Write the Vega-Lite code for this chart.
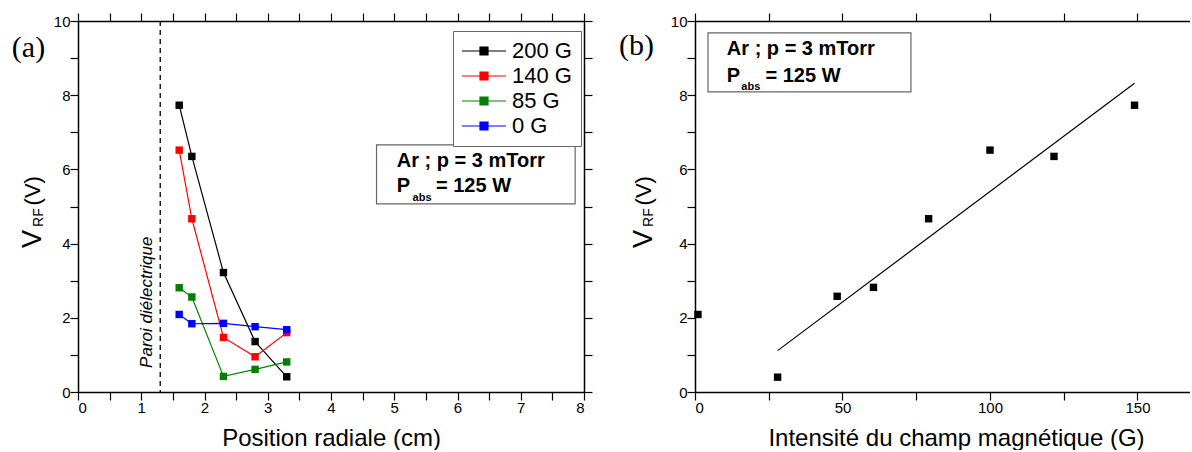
{
  "$schema": "https://vega.github.io/schema/vega-lite/v6.json",
  "padding": {"left": 11, "top": 12, "right": 0, "bottom": 0},
  "spacing": 111,
  "bounds": "flush",
  "resolve": {"scale": {"color": "independent"}},
  "datasets": {
    "radial": [
      {"s": "200 G", "pos": 1.6, "vrf": 7.73}, {"s": "200 G", "pos": 1.8, "vrf": 6.35}, {"s": "200 G", "pos": 2.3, "vrf": 3.22}, {"s": "200 G", "pos": 2.8, "vrf": 1.36}, {"s": "200 G", "pos": 3.3, "vrf": 0.41},
      {"s": "140 G", "pos": 1.6, "vrf": 6.52}, {"s": "140 G", "pos": 1.8, "vrf": 4.67}, {"s": "140 G", "pos": 2.3, "vrf": 1.47}, {"s": "140 G", "pos": 2.8, "vrf": 0.95}, {"s": "140 G", "pos": 3.3, "vrf": 1.6},
      {"s": "85 G", "pos": 1.6, "vrf": 2.81}, {"s": "85 G", "pos": 1.8, "vrf": 2.56}, {"s": "85 G", "pos": 2.3, "vrf": 0.42}, {"s": "85 G", "pos": 2.8, "vrf": 0.61}, {"s": "85 G", "pos": 3.3, "vrf": 0.81},
      {"s": "0 G", "pos": 1.6, "vrf": 2.09}, {"s": "0 G", "pos": 1.8, "vrf": 1.84}, {"s": "0 G", "pos": 2.3, "vrf": 1.85}, {"s": "0 G", "pos": 2.8, "vrf": 1.76}, {"s": "0 G", "pos": 3.3, "vrf": 1.68}
    ],
    "champ": [
      {"B": 1, "vrf": 2.09}, {"B": 28, "vrf": 0.4}, {"B": 48.2, "vrf": 2.58}, {"B": 60.5, "vrf": 2.82},
      {"B": 79.2, "vrf": 4.67}, {"B": 100, "vrf": 6.52}, {"B": 121.7, "vrf": 6.35}, {"B": 149, "vrf": 7.73}
    ],
    "one": [{}]
  },
  "config": {
    "view": {"stroke": null},
    "font": "Liberation Sans",
    "axis": {
      "labelColor": "black", "titleColor": "black", "domainColor": "black", "domainWidth": 1.5,
      "tickColor": "black", "tickWidth": 1.2, "grid": false, "labelFontSize": 15,
      "labelFont": "Liberation Sans", "titleFont": "Liberation Sans", "titleFontSize": 24,
      "titleFontWeight": "normal", "labelOverlap": false, "tickSize": 8, "labelPadding": 0
    }
  },
  "hconcat": [
    {
      "name": "pa",
      "width": 506,
      "height": 371,
      "resolve": {"axis": {"x": "independent", "y": "independent"}},
      "layer": [
        {
          "data": {"name": "radial"},
          "mark": {"type": "line", "strokeWidth": 1.2, "point": {"shape": "square", "size": 55, "filled": true, "opacity": 1}},
          "encoding": {
            "x": {"field": "pos", "type": "quantitative", "scale": {"domain": [0, 8], "nice": false},
              "axis": {"orient": "bottom", "values": [0, 0.5, 1, 1.5, 2, 2.5, 3, 3.5, 4, 4.5, 5, 5.5, 6, 6.5, 7, 7.5, 8], "format": ".0f",
                "labelExpr": "datum.value % 1 ? '' : datum.label", "title": "Position radiale (cm)", "titlePadding": 11,
                "encode": {"ticks": {"update": {"y2": {"signal": "datum.value % 1 ? -4 : -8"}}}}}},
            "y": {"field": "vrf", "type": "quantitative", "scale": {"domain": [0, 10], "nice": false},
              "axis": {"orient": "left", "values": [0, 1, 2, 3, 4, 5, 6, 7, 8, 9, 10],
                "labelExpr": "datum.value % 2 ? '' : datum.label", "title": null,
                "encode": {"ticks": {"update": {"x2": {"signal": "datum.value % 2 ? 4 : 8"}}}}}},
            "color": {"field": "s", "type": "nominal",
              "scale": {"domain": ["200 G", "140 G", "85 G", "0 G"], "range": ["#000000", "#ff0000", "#008000", "#0000ff"]},
              "legend": {"orient": "none", "legendX": 375, "legendY": 10, "title": null, "padding": 9,
                "strokeColor": "#666666", "fillColor": "white", "symbolType": "M-5.5,0H5.5M-1,-1H1V1H-1Z", "symbolSize": 64,
                "symbolOffset": 11, "labelOffset": 17, "labelFontSize": 22, "labelFont": "Liberation Sans", "labelColor": "black", "rowPadding": 3,
                "encode": {"symbols": {"update": {"fill": {"scale": "pa_color", "field": "value"}, "stroke": {"scale": "pa_color", "field": "value"}, "strokeWidth": {"value": 1.2}, "opacity": {"value": 1}}}}}},
            "order": {"field": "pos", "type": "quantitative"}
          }
        },
        {
          "data": {"name": "one"},
          "mark": {"type": "rule", "strokeDash": [5, 4], "strokeWidth": 1.3, "color": "black"},
          "encoding": {"x": {"datum": 1.3, "type": "quantitative", "scale": {"domain": [0, 8], "nice": false}, "axis": null}}
        },
        {
          "data": {"name": "one"},
          "mark": {"type": "text", "text": "Paroi diélectrique", "angle": 270, "align": "left", "baseline": "middle", "fontStyle": "italic", "fontSize": 17, "color": "black"},
          "encoding": {
            "x": {"datum": 1.09, "type": "quantitative", "scale": {"domain": [0, 8], "nice": false}, "axis": null},
            "y": {"datum": 0.65, "type": "quantitative", "scale": {"domain": [0, 10], "nice": false}, "axis": null}
          }
        },
        {
          "data": {"name": "one"},
          "mark": {"type": "rect", "fill": "white", "stroke": "#666666", "strokeWidth": 1.2},
          "encoding": {
            "x": {"datum": 4.72, "type": "quantitative", "scale": {"domain": [0, 8], "nice": false},
              "axis": {"orient": "top", "values": [0, 0.5, 1, 1.5, 2, 2.5, 3, 3.5, 4, 4.5, 5, 5.5, 6, 6.5, 7, 7.5, 8], "labels": false, "title": null,
                "encode": {"ticks": {"update": {"y2": {"signal": "datum.value % 1 ? 4 : 8"}}}}}},
            "x2": {"datum": 7.86},
            "y": {"datum": 5.07, "type": "quantitative", "scale": {"domain": [0, 10], "nice": false},
              "axis": {"orient": "right", "values": [0, 1, 2, 3, 4, 5, 6, 7, 8, 9, 10], "labels": false, "title": null,
                "encode": {"ticks": {"update": {"x2": {"signal": "datum.value % 2 ? -4 : -8"}}}}}},
            "y2": {"datum": 6.66}
          }
        },
        {
          "data": {"values": [{"t": "Ar ; p = 3 mTorr", "px": 5.04, "py": 6.23}, {"t": "P", "px": 5.04, "py": 5.55}, {"t": "= 125 W", "px": 5.66, "py": 5.55}]},
          "mark": {"type": "text", "align": "left", "baseline": "middle", "fontWeight": "bold", "fontSize": 20, "color": "black"},
          "encoding": {
            "x": {"field": "px", "type": "quantitative", "scale": {"domain": [0, 8], "nice": false}, "axis": null},
            "y": {"field": "py", "type": "quantitative", "scale": {"domain": [0, 10], "nice": false}, "axis": null},
            "text": {"field": "t"}
          }
        },
        {
          "data": {"name": "one"},
          "mark": {"type": "text", "text": "abs", "align": "left", "baseline": "middle", "fontWeight": "bold", "fontSize": 11, "color": "black"},
          "encoding": {
            "x": {"datum": 5.29, "type": "quantitative", "scale": {"domain": [0, 8], "nice": false}, "axis": null},
            "y": {"datum": 5.24, "type": "quantitative", "scale": {"domain": [0, 10], "nice": false}, "axis": null}
          }
        },
        {
          "data": {"name": "one"},
          "mark": {"type": "text", "text": "(a)", "align": "left", "baseline": "middle", "font": "Liberation Serif", "fontSize": 30, "color": "black"},
          "encoding": {
            "x": {"datum": -1.046, "type": "quantitative", "scale": {"domain": [0, 8], "nice": false}, "axis": null},
            "y": {"datum": 9.27, "type": "quantitative", "scale": {"domain": [0, 10], "nice": false}, "axis": null}
          }
        },
        {
          "data": {"name": "one"},
          "mark": {"type": "text", "text": "V", "angle": 270, "align": "left", "baseline": "middle", "fontSize": 27, "color": "black"},
          "encoding": {
            "x": {"datum": -0.705, "type": "quantitative", "scale": {"domain": [0, 8], "nice": false}, "axis": null},
            "y": {"datum": 3.88, "type": "quantitative", "scale": {"domain": [0, 10], "nice": false}, "axis": null}
          }
        },
        {
          "data": {"name": "one"},
          "mark": {"type": "text", "text": "RF", "angle": 270, "align": "left", "baseline": "middle", "fontSize": 14, "color": "black"},
          "encoding": {
            "x": {"datum": -0.62, "type": "quantitative", "scale": {"domain": [0, 8], "nice": false}, "axis": null},
            "y": {"datum": 4.45, "type": "quantitative", "scale": {"domain": [0, 10], "nice": false}, "axis": null}
          }
        },
        {
          "data": {"name": "one"},
          "mark": {"type": "text", "text": "(V)", "angle": 270, "align": "left", "baseline": "middle", "fontSize": 22, "color": "black"},
          "encoding": {
            "x": {"datum": -0.705, "type": "quantitative", "scale": {"domain": [0, 8], "nice": false}, "axis": null},
            "y": {"datum": 5.03, "type": "quantitative", "scale": {"domain": [0, 10], "nice": false}, "axis": null}
          }
        }
      ]
    },
    {
      "name": "pb",
      "width": 495,
      "height": 371,
      "resolve": {"axis": {"x": "independent", "y": "independent"}},
      "layer": [
        {
          "data": {"name": "champ"},
          "mark": {"type": "point", "shape": "square", "size": 55, "filled": true, "color": "black", "opacity": 1},
          "encoding": {
            "x": {"field": "B", "type": "quantitative", "scale": {"domain": [0, 167.8], "nice": false},
              "axis": {"orient": "bottom", "values": [0, 25, 50, 75, 100, 125, 150],
                "labelExpr": "datum.value % 50 ? '' : datum.label", "title": "Intensité du champ magnétique (G)", "titlePadding": 11, "titleX": 261,
                "encode": {"ticks": {"update": {"y2": {"signal": "datum.value % 50 ? -4 : -8"}}}}}},
            "y": {"field": "vrf", "type": "quantitative", "scale": {"domain": [0, 10], "nice": false},
              "axis": {"orient": "left", "values": [0, 1, 2, 3, 4, 5, 6, 7, 8, 9, 10],
                "labelExpr": "datum.value % 2 ? '' : datum.label", "title": null,
                "encode": {"ticks": {"update": {"x2": {"signal": "datum.value % 2 ? 4 : 8"}}}}}}
          }
        },
        {
          "data": {"name": "champ"},
          "transform": [{"filter": "datum.B > 10"}, {"regression": "vrf", "on": "B"}],
          "mark": {"type": "line", "color": "black", "strokeWidth": 1.2},
          "encoding": {
            "x": {"field": "B", "type": "quantitative", "scale": {"domain": [0, 167.8], "nice": false}, "axis": null},
            "y": {"field": "vrf", "type": "quantitative", "scale": {"domain": [0, 10], "nice": false}, "axis": null}
          }
        },
        {
          "data": {"name": "one"},
          "mark": {"type": "rect", "fill": "white", "stroke": "#666666", "strokeWidth": 1.2},
          "encoding": {
            "x": {"datum": 4.4, "type": "quantitative", "scale": {"domain": [0, 167.8], "nice": false},
              "axis": {"orient": "top", "values": [0, 25, 50, 75, 100, 125, 150], "labels": false, "title": null,
                "encode": {"ticks": {"update": {"y2": {"signal": "datum.value % 50 ? 4 : 8"}}}}}},
            "x2": {"datum": 73.2},
            "y": {"datum": 8.09, "type": "quantitative", "scale": {"domain": [0, 10], "nice": false}, "axis": null},
            "y2": {"datum": 9.68}
          }
        },
        {
          "data": {"values": [{"t": "Ar ; p = 3 mTorr", "px": 10.8, "py": 9.25}, {"t": "P", "px": 10.8, "py": 8.52}, {"t": "= 125 W", "px": 23.9, "py": 8.52}]},
          "mark": {"type": "text", "align": "left", "baseline": "middle", "fontWeight": "bold", "fontSize": 20, "color": "black"},
          "encoding": {
            "x": {"field": "px", "type": "quantitative", "scale": {"domain": [0, 167.8], "nice": false}, "axis": null},
            "y": {"field": "py", "type": "quantitative", "scale": {"domain": [0, 10], "nice": false}, "axis": null},
            "text": {"field": "t"}
          }
        },
        {
          "data": {"name": "one"},
          "mark": {"type": "text", "text": "abs", "align": "left", "baseline": "middle", "fontWeight": "bold", "fontSize": 11, "color": "black"},
          "encoding": {
            "x": {"datum": 15.7, "type": "quantitative", "scale": {"domain": [0, 167.8], "nice": false}, "axis": null},
            "y": {"datum": 8.21, "type": "quantitative", "scale": {"domain": [0, 10], "nice": false}, "axis": null}
          }
        },
        {
          "data": {"name": "one"},
          "mark": {"type": "text", "text": "(b)", "align": "left", "baseline": "middle", "font": "Liberation Serif", "fontSize": 30, "color": "black"},
          "encoding": {
            "x": {"datum": -25.8, "type": "quantitative", "scale": {"domain": [0, 167.8], "nice": false}, "axis": null},
            "y": {"datum": 9.33, "type": "quantitative", "scale": {"domain": [0, 10], "nice": false}, "axis": null}
          }
        },
        {
          "data": {"name": "one"},
          "mark": {"type": "text", "text": "V", "angle": 270, "align": "left", "baseline": "middle", "fontSize": 27, "color": "black"},
          "encoding": {
            "x": {"datum": -17.3, "type": "quantitative", "scale": {"domain": [0, 167.8], "nice": false}, "axis": null},
            "y": {"datum": 3.88, "type": "quantitative", "scale": {"domain": [0, 10], "nice": false}, "axis": null}
          }
        },
        {
          "data": {"name": "one"},
          "mark": {"type": "text", "text": "RF", "angle": 270, "align": "left", "baseline": "middle", "fontSize": 14, "color": "black"},
          "encoding": {
            "x": {"datum": -15.6, "type": "quantitative", "scale": {"domain": [0, 167.8], "nice": false}, "axis": null},
            "y": {"datum": 4.45, "type": "quantitative", "scale": {"domain": [0, 10], "nice": false}, "axis": null}
          }
        },
        {
          "data": {"name": "one"},
          "mark": {"type": "text", "text": "(V)", "angle": 270, "align": "left", "baseline": "middle", "fontSize": 22, "color": "black"},
          "encoding": {
            "x": {"datum": -17.3, "type": "quantitative", "scale": {"domain": [0, 167.8], "nice": false}, "axis": null},
            "y": {"datum": 5.03, "type": "quantitative", "scale": {"domain": [0, 10], "nice": false}, "axis": null}
          }
        }
      ]
    }
  ]
}
